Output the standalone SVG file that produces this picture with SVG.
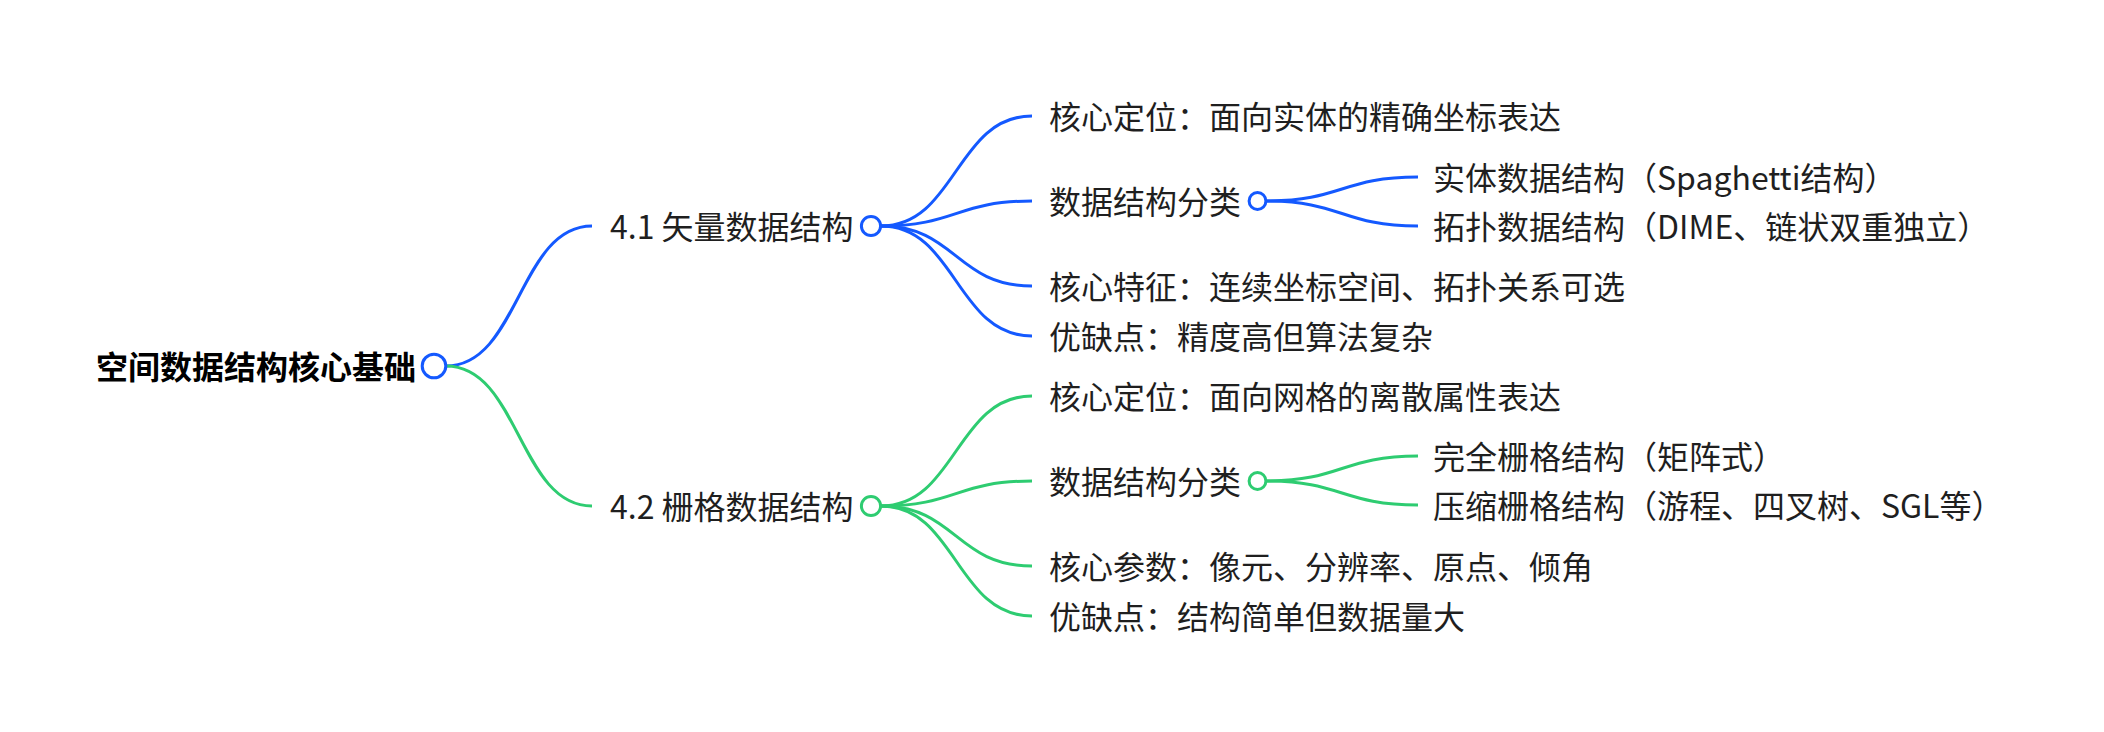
<svg xmlns="http://www.w3.org/2000/svg" width="2104" height="732" viewBox="0 0 2104 732">
<style>
  .t { font-family: "Noto Sans CJK SC", "Noto Sans", sans-serif; font-size: 32px; fill: #1f1f1f; }
  .root { font-weight: bold; fill: #000; }
  .lb { fill: none; stroke: #1459ff; stroke-width: 3; }
  .lg { fill: none; stroke: #2ecc71; stroke-width: 3; }
  .cb { fill: #fff; stroke: #1459ff; stroke-width: 3; }
  .cg { fill: #fff; stroke: #2ecc71; stroke-width: 3; }
</style>
<rect width="2104" height="732" fill="#fff"/>
<g id="connectors">
  <path class="lb" d="M446 366 C519 366 519 226 592 226"/>
  <path class="lg" d="M446 366 C519 366 519 506 592 506"/>
  <path class="lb" d="M881 226 C956 226 956 116 1032 116"/>
  <path class="lb" d="M881 226 C956 226 956 201 1032 201"/>
  <path class="lb" d="M881 226 C956 226 956 286 1032 286"/>
  <path class="lb" d="M881 226 C956 226 956 336 1032 336"/>
  <path class="lb" d="M1266 201 C1342 201 1342 177 1418 177"/>
  <path class="lb" d="M1266 201 C1342 201 1342 226 1418 226"/>
  <path class="lg" d="M881 506 C956 506 956 396 1032 396"/>
  <path class="lg" d="M881 506 C956 506 956 481 1032 481"/>
  <path class="lg" d="M881 506 C956 506 956 566 1032 566"/>
  <path class="lg" d="M881 506 C956 506 956 616 1032 616"/>
  <path class="lg" d="M1266 481 C1342 481 1342 456 1418 456"/>
  <path class="lg" d="M1266 481 C1342 481 1342 505 1418 505"/>
</g>
<g id="root">
  <text class="t root" x="96" y="379">空间数据结构核心基础</text>
  <circle class="cb" cx="434" cy="366" r="11.8"/>
</g>
<g id="n41">
  <text class="t" x="610" y="239">4.1 矢量数据结构</text>
  <circle class="cb" cx="871" cy="226" r="9.6"/>
</g>
<g id="n41a"><text class="t" x="1049" y="129">核心定位：面向实体的精确坐标表达</text></g>
<g id="n41b">
  <text class="t" x="1049" y="214">数据结构分类</text>
  <circle class="cb" cx="1257.5" cy="201" r="8.4"/>
</g>
<g id="n41b1"><text class="t" x="1433" y="190">实体数据结构（Spaghetti结构）</text></g>
<g id="n41b2"><text class="t" x="1433" y="239">拓扑数据结构（DIME、链状双重独立）</text></g>
<g id="n41c"><text class="t" x="1049" y="299">核心特征：连续坐标空间、拓扑关系可选</text></g>
<g id="n41d"><text class="t" x="1049" y="349">优缺点：精度高但算法复杂</text></g>
<g id="n42">
  <text class="t" x="610" y="519">4.2 栅格数据结构</text>
  <circle class="cg" cx="871" cy="506" r="9.6"/>
</g>
<g id="n42a"><text class="t" x="1049" y="409">核心定位：面向网格的离散属性表达</text></g>
<g id="n42b">
  <text class="t" x="1049" y="494">数据结构分类</text>
  <circle class="cg" cx="1257.5" cy="481" r="8.4"/>
</g>
<g id="n42b1"><text class="t" x="1433" y="469">完全栅格结构（矩阵式）</text></g>
<g id="n42b2"><text class="t" x="1433" y="518">压缩栅格结构（游程、四叉树、SGL等）</text></g>
<g id="n42c"><text class="t" x="1049" y="579">核心参数：像元、分辨率、原点、倾角</text></g>
<g id="n42d"><text class="t" x="1049" y="629">优缺点：结构简单但数据量大</text></g>
</svg>
